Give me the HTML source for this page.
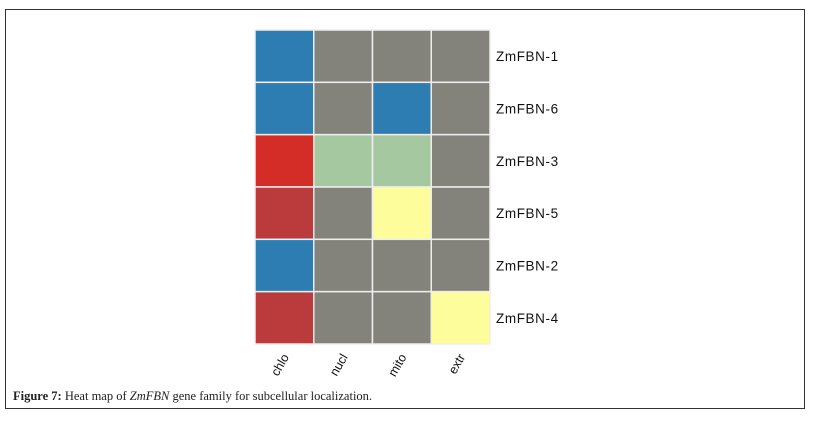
<!DOCTYPE html>
<html><head><meta charset="utf-8"><style>
body{margin:0;width:816px;height:421px;background:#fff;overflow:hidden;position:relative}
#frame{position:absolute;left:5px;top:9px;width:800px;height:400px;border:1px solid #333;box-sizing:border-box}
#cap{position:absolute;left:13px;top:389px;font-family:"Liberation Serif",serif;font-size:12.5px;color:#222}
svg{position:absolute;left:0;top:0}
</style></head><body>
<div id="frame"></div>
<svg id="chart" width="816" height="421"></svg>
<div id="cap"><b>Figure 7:</b> Heat map of <i>ZmFBN</i> gene family for subcellular localization.</div>
<script>
const columns=["chlo","nucl","mito","extr"];
const genes=["ZmFBN-1","ZmFBN-6","ZmFBN-3","ZmFBN-5","ZmFBN-2","ZmFBN-4"];
const cellValues=[[1,0,0,0],[1,0,1,0],[2,4,4,0],[3,0,5,0],[1,0,0,0],[3,0,0,5]];
const palette=["#83837b","#2d7db3","#d42d28","#bb3a3b","#a5c8a0","#fdfd9b"];
const svg=document.getElementById('chart');const NS="http://www.w3.org/2000/svg";
const x0=255,x1=490,y0=30,y1=344;
const cw=(x1-x0)/columns.length,rh=(y1-y0)/genes.length;
const xs=i=>x0+i*cw, ys=j=>y0+j*rh;
cellValues.forEach((row,j)=>row.forEach((v,i)=>{
 const r=document.createElementNS(NS,'rect');
 r.setAttribute('x',xs(i));r.setAttribute('y',ys(j));r.setAttribute('width',cw);r.setAttribute('height',rh);
 r.setAttribute('fill',palette[v]);r.setAttribute('stroke','#eee');r.setAttribute('stroke-width','1.5');
 
 
 svg.appendChild(r);
}));
genes.forEach((g,j)=>{
 const t=document.createElementNS(NS,'text');
 t.setAttribute('x',x1+6);t.setAttribute('y',ys(j)+rh/2+5);t.setAttribute('font-family','Liberation Sans, sans-serif');t.setAttribute('font-size','13.5');t.setAttribute('letter-spacing','0.6');t.setAttribute('fill','#111');
 t.textContent=g;
 
 
 svg.appendChild(t);
});
columns.forEach((c,i)=>{
 const cx=xs(i)+cw/2+5,cy=y1+13;
 const t=document.createElementNS(NS,'text');
 t.setAttribute('x',cx);t.setAttribute('y',cy);t.setAttribute('text-anchor','end');t.setAttribute('font-family','Liberation Sans, sans-serif');t.setAttribute('font-size','12.5');t.setAttribute('fill','#111');
 t.setAttribute('transform','rotate(-60 '+cx+' '+cy+')');
 t.textContent=c;
 
 
 svg.appendChild(t);
});
</script>
</body></html>
